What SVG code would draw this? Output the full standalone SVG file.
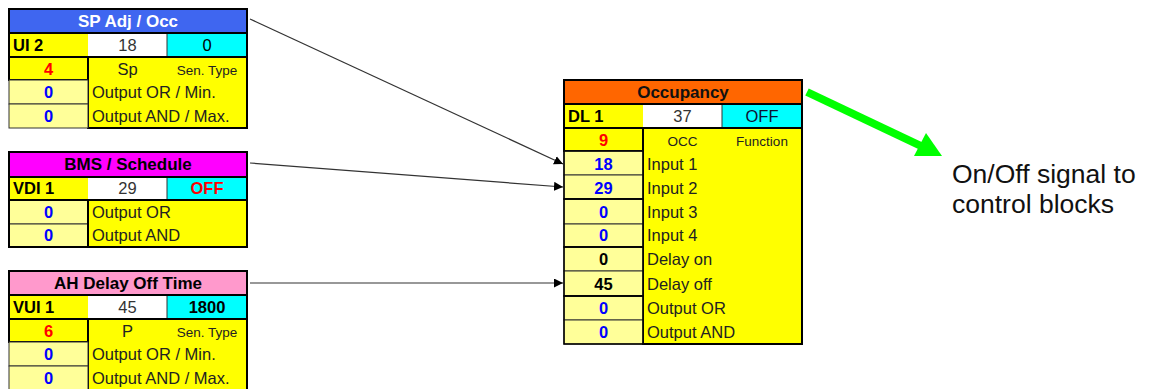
<svg xmlns="http://www.w3.org/2000/svg" width="1153" height="389" viewBox="0 0 1153 389">
<style>
text{font-family:"Liberation Sans",Arial,sans-serif;font-size:16.5px;fill:#222}
.t{font-weight:bold;text-anchor:middle;font-size:17px}
.b{font-weight:bold}
.c{text-anchor:middle}
.s{font-size:13.5px}
.red{fill:#ff0000;font-weight:bold}
.blue{fill:#0000ff;font-weight:bold}
.box{stroke:#000;stroke-width:2}
.cell{stroke:#333;stroke-width:1}
.ly{fill:#ffff99}
.y{fill:#ffff00}
.cy{fill:#00ffff}
.w{fill:#ffffff}
.conn{stroke:#333;stroke-width:1.2;fill:none}
</style>
<defs>
<marker id="ah" viewBox="0 0 10 10" refX="10" refY="5" markerWidth="9" markerHeight="9" markerUnits="userSpaceOnUse" orient="auto">
<path d="M0,0 L10,5 L0,10 z" fill="#000"/>
</marker>
</defs>
<rect width="1153" height="389" fill="#fff"/>

<g id="node-spadj">
<rect x="9" y="9" width="238" height="24" fill="#3f66f0" class="box"/>
<text x="128" y="27" class="t" style="fill:#fff">SP Adj / Occ</text>
<rect x="9" y="33" width="79" height="24" class="y"/>
<rect x="88" y="33" width="79" height="24" class="w"/>
<rect x="167" y="33" width="80" height="24" class="cy cell"/>
<text x="13" y="51" class="b" style="fill:#000">UI 2</text>
<text x="127.5" y="51" class="c" style="fill:#333">18</text>
<text x="207" y="51" class="c" style="fill:#000">0</text>
<rect x="88" y="57" width="159" height="71" class="y box"/>
<rect x="9" y="57" width="79" height="23" class="y box"/>
<text x="48.5" y="75" class="c red">4</text>
<text x="127.5" y="75" class="c">Sp</text>
<text x="207" y="75" class="c s">Sen. Type</text>
<rect x="9" y="80" width="79" height="24" class="ly cell"/>
<rect x="9" y="104" width="79" height="24" class="ly cell"/>
<text x="48.5" y="98" class="c blue">0</text>
<text x="48.5" y="122" class="c blue">0</text>
<text x="92" y="98">Output OR / Min.</text>
<text x="92" y="122">Output AND / Max.</text>
<rect x="9" y="33" width="238" height="24" fill="none" class="box"/>
</g>

<g id="node-bms">
<rect x="9" y="152" width="238" height="25" fill="#ff00ff" class="box"/>
<text x="128" y="170" class="t" style="fill:#000">BMS / Schedule</text>
<rect x="9" y="177" width="79" height="23" class="y"/>
<rect x="88" y="177" width="79" height="23" class="w"/>
<rect x="167" y="177" width="80" height="23" class="cy cell"/>
<text x="13" y="194" class="b" style="fill:#000">VDI 1</text>
<text x="127.5" y="194" class="c" style="fill:#333">29</text>
<text x="207" y="194" class="c red">OFF</text>
<rect x="88" y="200" width="159" height="47" class="y box"/>
<rect x="9" y="200" width="79" height="24" class="ly cell"/>
<rect x="9" y="224" width="79" height="23" class="ly cell"/>
<text x="48.5" y="218" class="c blue">0</text>
<text x="48.5" y="241" class="c blue">0</text>
<text x="92" y="218">Output OR</text>
<text x="92" y="241">Output AND</text>
<rect x="9" y="200" width="79" height="47" fill="none" class="box"/>
<rect x="9" y="177" width="238" height="23" fill="none" class="box"/>
</g>

<g id="node-ahdelay">
<rect x="9" y="271" width="238" height="24" fill="#ff99cc" class="box"/>
<text x="128" y="289" class="t" style="fill:#000">AH Delay Off Time</text>
<rect x="9" y="295" width="79" height="24" class="y"/>
<rect x="88" y="295" width="79" height="24" class="w"/>
<rect x="167" y="295" width="80" height="24" class="cy cell"/>
<text x="13" y="313" class="b" style="fill:#000">VUI 1</text>
<text x="127.5" y="313" class="c" style="fill:#333">45</text>
<text x="207" y="313" class="c b" style="fill:#000">1800</text>
<rect x="88" y="319" width="159" height="72" class="y box"/>
<rect x="9" y="319" width="79" height="23" class="y box"/>
<text x="48.5" y="337" class="c red">6</text>
<text x="127.5" y="337" class="c">P</text>
<text x="207" y="337" class="c s">Sen. Type</text>
<rect x="9" y="342" width="79" height="24" class="ly cell"/>
<rect x="9" y="366" width="79" height="25" class="ly cell"/>
<text x="48.5" y="360" class="c blue">0</text>
<text x="48.5" y="384" class="c blue">0</text>
<text x="92" y="360">Output OR / Min.</text>
<text x="92" y="384">Output AND / Max.</text>
<rect x="9" y="295" width="238" height="24" fill="none" class="box"/>
</g>

<g id="node-occupancy">
<rect x="564" y="80" width="238" height="24" fill="#ff6600" class="box"/>
<text x="683" y="98" class="t" style="fill:#111">Occupancy</text>
<rect x="564" y="104" width="79" height="24" class="y"/>
<rect x="643" y="104" width="79" height="24" class="w"/>
<rect x="722" y="104" width="80" height="24" class="cy cell"/>
<text x="568" y="122" class="b" style="fill:#000">DL 1</text>
<text x="682.5" y="122" class="c" style="fill:#333">37</text>
<text x="762" y="122" class="c" style="fill:#113">OFF</text>
<rect x="643" y="128" width="159" height="216" class="y box"/>
<rect x="564" y="128" width="79" height="23" class="y box"/>
<text x="603.5" y="146" class="c red">9</text>
<text x="682.5" y="146" class="c s">OCC</text>
<text x="762" y="146" class="c s">Function</text>
<rect x="564" y="151" width="79" height="24" class="ly cell"/>
<rect x="564" y="175" width="79" height="24" class="ly cell"/>
<rect x="564" y="199" width="79" height="25" class="ly cell"/>
<rect x="564" y="224" width="79" height="23" class="ly cell"/>
<rect x="564" y="247" width="79" height="24" class="ly cell"/>
<rect x="564" y="271" width="79" height="25" class="ly cell"/>
<rect x="564" y="296" width="79" height="24" class="ly cell"/>
<rect x="564" y="320" width="79" height="24" class="ly cell"/>
<rect x="564" y="151" width="79" height="48" fill="none" class="box" style="stroke-width:1.5"/>
<rect x="564" y="199" width="79" height="48" fill="none" class="box" style="stroke-width:1.5"/>
<rect x="564" y="247" width="79" height="49" fill="none" class="box" style="stroke-width:1.5"/>
<rect x="564" y="296" width="79" height="48" fill="none" class="box" style="stroke-width:1.5"/>
<text x="603.5" y="170" class="c blue">18</text>
<text x="603.5" y="194" class="c blue">29</text>
<text x="603.5" y="218" class="c blue">0</text>
<text x="603.5" y="241" class="c blue">0</text>
<text x="603.5" y="265" class="c b" style="fill:#000">0</text>
<text x="603.5" y="290" class="c b" style="fill:#000">45</text>
<text x="603.5" y="314" class="c blue">0</text>
<text x="603.5" y="338" class="c blue">0</text>
<text x="647" y="170">Input 1</text>
<text x="647" y="194">Input 2</text>
<text x="647" y="218">Input 3</text>
<text x="647" y="241">Input 4</text>
<text x="647" y="265">Delay on</text>
<text x="647" y="290">Delay off</text>
<text x="647" y="314">Output OR</text>
<text x="647" y="338">Output AND</text>
<rect x="564" y="104" width="238" height="24" fill="none" class="box"/>
</g>

<g id="connectors">
<line x1="250" y1="19" x2="563" y2="164" class="conn" marker-end="url(#ah)"/>
<line x1="250" y1="163" x2="563" y2="187" class="conn" marker-end="url(#ah)"/>
<line x1="250" y1="283" x2="563" y2="283" class="conn" marker-end="url(#ah)"/>
<g id="output-arrow">
<line x1="807" y1="92" x2="921" y2="146" stroke="#00ff00" stroke-width="8"/>
<polygon points="942,156 914,156 926,133" fill="#00ff00"/>
</g>
</g>

<g id="note">
<text x="952" y="183" style="font-size:26.5px;fill:#111">On/Off signal to</text>
<text x="952" y="213" style="font-size:26.5px;fill:#111">control blocks</text>
</g>
</svg>
